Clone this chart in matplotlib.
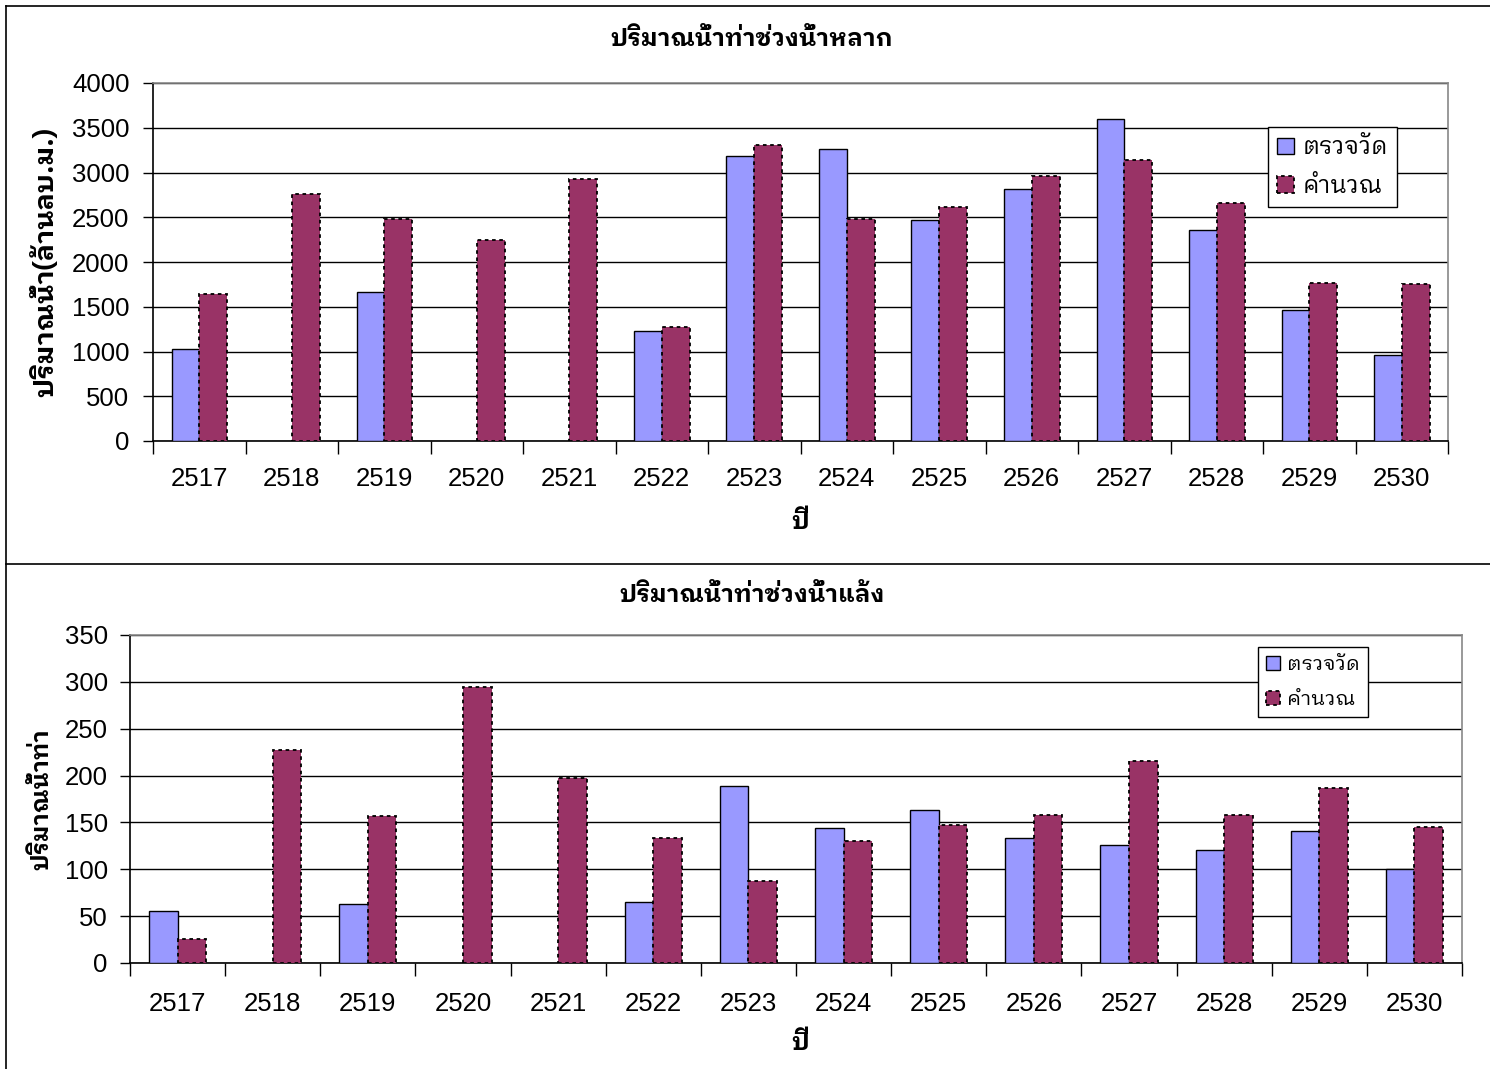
import numpy as np
import matplotlib
matplotlib.use("Agg")
import matplotlib.pyplot as plt
from matplotlib.patches import Patch
from matplotlib.lines import Line2D

plt.rcParams['font.family'] = ['Liberation Sans', 'IBM Plex Sans Thai Looped', 'DejaVu Sans']

thai = ['IBM Plex Sans Thai Looped', 'DejaVu Sans']

# ปี พ.ศ.
pi = ['2517', '2518', '2519', '2520', '2521', '2522', '2523',
      '2524', '2525', '2526', '2527', '2528', '2529', '2530']

# ช่วงน้ำหลาก (ล้าน ลบ.ม.)
lak_truat = [1025, np.nan, 1662, np.nan, np.nan, 1225, 3180,
             3268, 2468, 2816, 3596, 2360, 1464, 966]
lak_kham = [1638, 2756, 2480, 2242, 2928, 1278, 3308,
            2480, 2614, 2962, 3138, 2656, 1768, 1750]

# ช่วงน้ำแล้ง
laeng_truat = [55.6, np.nan, 63, np.nan, np.nan, 65, 189,
               144.5, 163, 133.5, 126, 120.4, 140.6, 100]
laeng_kham = [25.5, 227.4, 157, 295, 197, 133, 88,
              130, 147.7, 158, 215.4, 158, 186.7, 145]

blue = '#9999FF'
maroon = '#993366'

fig = plt.figure(figsize=(14.9, 10.69), dpi=100)
W, H = 1490, 1069


def fx(px):
    return px / W


def fy(py):
    return 1 - py / H


def graf(rect, truat, kham, ymax, ystep, title, ylabel, ty, xly, ylx, ylsize,
         legbox, legsize, legspace, xpad, ypad):
    ax = fig.add_axes(rect)
    x = np.arange(len(pi))
    w = 0.3
    ax.bar(x - w/2, truat, w, color=blue, edgecolor='black', linewidth=1.0, zorder=3)
    ax.bar(x + w/2, kham, w, color=maroon, edgecolor='black', linewidth=1.3,
           linestyle=(0, (2, 2)), zorder=3)

    ax.set_xlim(-0.5, len(pi) - 0.5)
    ax.set_ylim(0, ymax)
    ax.set_yticks(np.arange(0, ymax + 1, ystep))
    ax.yaxis.grid(True, color='black', linewidth=1.0, zorder=0)
    ax.set_axisbelow(True)

    # ขีดแบ่งระหว่างปี และชื่อปีตรงกลาง
    ax.set_xticks(np.arange(-0.5, len(pi), 1.0))
    ax.set_xticklabels([])
    ax.set_xticks(x, minor=True)
    ax.set_xticklabels(pi, minor=True)
    ax.tick_params(axis='x', which='major', length=9, width=1, direction='out')
    ax.tick_params(axis='x', which='minor', length=0, pad=xpad, labelsize=18.5)
    ax.tick_params(axis='y', length=7, width=1, direction='out', labelsize=18.5, pad=ypad)

    for s in ['top', 'right']:
        ax.spines[s].set_color('#888888')
        ax.spines[s].set_linewidth(1.2)
    for s in ['left', 'bottom']:
        ax.spines[s].set_color('black')
        ax.spines[s].set_linewidth(1.2)

    fig.text(fx(752), fy(ty), title, ha='center', va='center', fontsize=17.5,
             fontweight='bold', family=thai)
    fig.text(fx(800), fy(xly), 'ปี', ha='center', va='center', fontsize=18,
             fontweight='bold', family=thai)
    fig.text(fx(ylx), (rect[1] + rect[1] + rect[3]) / 2, ylabel, ha='center', va='center',
             rotation=90, fontsize=ylsize, fontweight='bold', family=thai)

    h1 = Patch(facecolor=blue, edgecolor='black', linewidth=1.0)
    h2 = Patch(facecolor=maroon, edgecolor='black', linewidth=1.3, linestyle=(0, (2, 2)))
    leg = ax.legend([h1, h2], ['ตรวจวัด', 'คำนวณ'], loc='upper left',
                    bbox_to_anchor=legbox, bbox_transform=fig.transFigure,
                    prop={'family': thai, 'size': legsize}, frameon=True, fancybox=False,
                    edgecolor='black', framealpha=1, handlelength=0.7, handleheight=0.7,
                    handletextpad=0.35, borderpad=0.4, labelspacing=legspace, borderaxespad=0)
    leg.get_frame().set_linewidth(1.0)
    return ax


graf([fx(153), fy(441), fx(1448) - fx(153), fy(83) - fy(441)],
     lak_truat, lak_kham, 4000, 500,
     'ปริมาณน้ำท่าช่วงน้ำหลาก', 'ปริมาณน้ำ(ล้านลบ.ม.)',
     40, 522, 45, 19.5, (fx(1268), fy(127)), 17, 0.65, 19, 10)

graf([fx(130), fy(963), fx(1462) - fx(130), fy(635) - fy(963)],
     laeng_truat, laeng_kham, 350, 50,
     'ปริมาณน้ำท่าช่วงน้ำแล้ง', 'ปริมาณน้ำท่า',
     596, 1043, 42, 17, (fx(1258), fy(647)), 14.5, 0.8, 21, 9)

# กรอบของแต่ละกราฟ
fig.add_artist(Line2D([fx(6), 1], [fy(6), fy(6)], color='black', linewidth=1.2))
fig.add_artist(Line2D([fx(6), 1], [fy(564), fy(564)], color='black', linewidth=1.2))
fig.add_artist(Line2D([fx(6), fx(6)], [fy(6), 0], color='black', linewidth=1.2))

fig.savefig('out.png', dpi=100)
